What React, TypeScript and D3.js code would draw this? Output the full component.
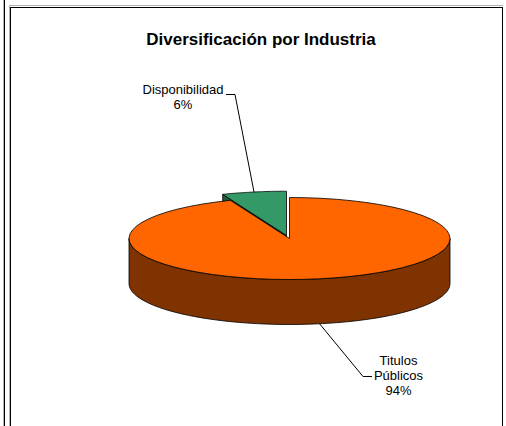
import React from "react";
import * as d3 from "d3";

// chart data
const categories = ["Titulos Públicos", "Disponibilidad"];
const values = [94, 6];
const percentLabels = ["94%", "6%"];
const labelLines = [["Titulos", "Públicos"], ["Disponibilidad"]];
const topColors = ["#FF6600", "#339966"];
const sideColors = ["#7F3300", "#1D5C3C"];
const explodedIndex = 1;
const title = "Diversificación por Industria";

const W = 506;
const H = 426;
const FONT = "'Liberation Sans', Arial, sans-serif";

const App = () => {
  // pie geometry (3d ellipse)
  const cx = 289.5;
  const cy = 238.5;
  const rx = 160.5;
  const ry = 41;
  const depth = 45;
  const explodeShift = { dx: -3, dy: -3 };
  const explodeScale = 1.08;

  const arcs = d3
    .pie<number>()
    .sort(null)
    .startAngle(0)
    .endAngle(2 * Math.PI)(values);

  const line = d3.line();

  const pt = (c: [number, number], a: number, s = 1, dz = 0): [number, number] => [
    c[0] + rx * s * Math.sin(a),
    c[1] - ry * s * Math.cos(a) + dz,
  ];

  const arcPoints = (c: [number, number], a0: number, a1: number, s = 1, dz = 0) =>
    d3.range(0, 61).map((i) => pt(c, a0 + ((a1 - a0) * i) / 60, s, dz));

  const slices = arcs.map((a, i) => {
    const exploded = i === explodedIndex;
    const c: [number, number] = exploded
      ? [cx + explodeShift.dx, cy + explodeShift.dy]
      : [cx, cy];
    const s = exploded ? explodeScale : 1;
    const topPath = line([c, ...arcPoints(c, a.startAngle, a.endAngle, s)]) + "Z";

    // front wall (visible half of the rim)
    const w0 = Math.max(a.startAngle, Math.PI / 2);
    const w1 = Math.min(a.endAngle, (3 * Math.PI) / 2);
    const wallPath =
      w1 > w0
        ? line([
            ...arcPoints(c, w0, w1, s),
            ...arcPoints(c, w0, w1, s, depth).reverse(),
          ]) + "Z"
        : null;

    // radial cut face at start edge (faces viewer when in the back-left)
    const e = pt(c, a.startAngle, s);
    const cutPath = exploded
      ? line([c, e, [e[0], e[1] + depth], [c[0], c[1] + depth]]) + "Z"
      : null;

    const mid = (a.startAngle + a.endAngle) / 2;
    const front = Math.cos(mid) < 0;
    const anchor = pt(c, mid, s, front ? depth : 0);
    return { i, topPath, wallPath, cutPath, anchor };
  });

  const orange = slices[0];
  const green = slices[1];

  // label placements
  const labelPos = [
    { x: 398.5, y: 364.5, elbow: [363, 376.5] as [number, number], tick: 372 },
    { x: 183, y: 94, elbow: [235, 94.5] as [number, number], tick: 226 },
  ];

  return (
    <svg
      width={W}
      height={H}
      style={{ position: "absolute", left: 0, top: 0, background: "#fff" }}
    >
      {/* outer frame lines */}
      <line x1={3.5} y1={0} x2={3.5} y2={H} stroke="#b4b4b4" />
      <line x1={4.5} y1={0} x2={4.5} y2={H} stroke="#000" />
      <line x1={9} y1={5.5} x2={503} y2={5.5} stroke="#b4b4b4" />
      <line x1={9.5} y1={5} x2={9.5} y2={H} stroke="#b4b4b4" />
      <rect x={10.5} y={7.5} width={492} height={H} fill="none" stroke="#000" />

      <text
        x={261}
        y={45}
        textAnchor="middle"
        fontFamily={FONT}
        fontWeight="bold"
        fontSize={17}
      >
        {title}
      </text>

      {/* exploded slice: cut face then top */}
      {green.cutPath && (
        <path d={green.cutPath} fill={sideColors[1]} stroke="#000" strokeWidth={0.8} />
      )}
      <path d={green.topPath} fill={topColors[1]} stroke="#000" strokeWidth={0.8} />

      {/* main slice */}
      {orange.wallPath && (
        <path d={orange.wallPath} fill={sideColors[0]} stroke="#000" strokeWidth={0.8} />
      )}
      <path d={orange.topPath} fill={topColors[0]} stroke="#000" strokeWidth={0.8} />

      {/* labels + leader lines */}
      {slices.map((s) => {
        const lp = labelPos[s.i];
        const lines = [...labelLines[s.i], percentLabels[s.i]];
        return (
          <g key={categories[s.i]}>
            <polyline
              points={[[lp.tick, lp.elbow[1]], lp.elbow, s.anchor]
                .map((p) => p.join(","))
                .join(" ")}
              fill="none"
              stroke="#000"
              strokeWidth={1}
            />
            <text
              textAnchor="middle"
              fontFamily={FONT}
              fontSize={13}
              fill="#000"
            >
              {lines.map((t, k) => (
                <tspan key={k} x={lp.x} y={lp.y + k * 15.3}>
                  {t}
                </tspan>
              ))}
            </text>
          </g>
        );
      })}
    </svg>
  );
};

export default App;
